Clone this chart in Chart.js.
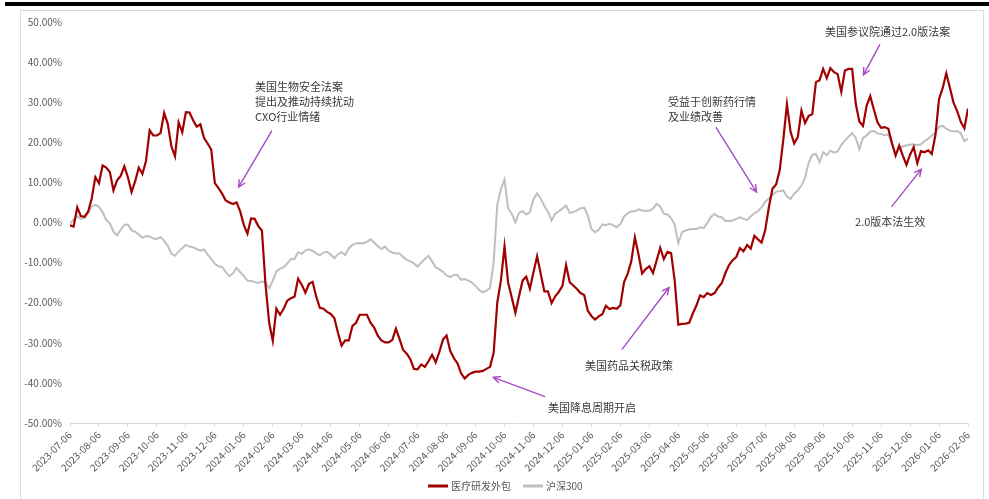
<!DOCTYPE html>
<html>
<head>
<meta charset="utf-8">
<script src="https://cdn.jsdelivr.net/npm/chart.js@4.4.1/dist/chart.umd.min.js"></script>
<style>
  html, body { margin: 0; padding: 0; background: #fff; }
  body { width: 989px; height: 499px; position: relative; overflow: hidden; }
  #topBar { position: absolute; left: 5px; top: 2px; width: 984px; height: 4px; background: #000; }
  #frame { position: absolute; left: 20px; top: 10px; width: 962px; height: 500px; border: 1px solid #d9d9d9; }
  #wrap { position: absolute; left: 0; top: 0; width: 989px; height: 499px; }
</style>
</head>
<body>
<div id="topBar"></div>
<div id="frame"></div>
<div id="wrap"><canvas id="trendChart" width="989" height="499"></canvas></div>
<script>
// month ticks, 2023-07-06 .. 2026-02-06
const tickLabels = [
  '2023-07-06', '2023-08-06', '2023-09-06', '2023-10-06', '2023-11-06', '2023-12-06',
  '2024-01-06', '2024-02-06', '2024-03-06', '2024-04-06', '2024-05-06', '2024-06-06',
  '2024-07-06', '2024-08-06', '2024-09-06', '2024-10-06', '2024-11-06', '2024-12-06',
  '2025-01-06', '2025-02-06', '2025-03-06', '2025-04-06', '2025-05-06', '2025-06-06',
  '2025-07-06', '2025-08-06', '2025-09-06', '2025-10-06', '2025-11-06', '2025-12-06',
  '2026-01-06', '2026-02-06'
];

// cumulative return (%), sampled 8 times per month
const STEPS_PER_MONTH = 8;

const cxoReturn = [
  -0.7, -1.0, 3.8, 1.6, 1.4, 2.7, 6.0, 11.3, 9.8, 14.2,
  13.7, 12.6, 8.0, 10.5, 11.6, 14.0, 11.3, 7.6, 10.3, 13.7,
  12.1, 15.4, 23.0, 21.7, 21.7, 22.3, 27.3, 24.6, 19.0, 16.5,
  25.0, 22.5, 27.5, 27.4, 25.5, 23.9, 24.5, 21.1, 19.7, 18.2,
  9.8, 8.6, 7.2, 5.5, 5.0, 4.6, 5.0, 2.8, -0.6, -2.8,
  1.0, 0.9, -0.9, -2.0, -15.5, -25.0, -29.5, -21.5, -23.0, -21.5,
  -19.5, -18.9, -18.5, -14.0, -15.5, -17.5, -15.3, -14.8, -18.5, -21.3,
  -21.5, -22.3, -22.8, -23.8, -27.5, -30.7, -29.4, -29.4, -25.8, -25.0,
  -23.0, -23.0, -23.0, -25.0, -26.2, -28.2, -29.4, -29.9, -29.9, -29.3,
  -26.5, -29.0, -31.8, -32.7, -34.1, -36.5, -36.6, -35.4, -36.0, -34.6,
  -33.0, -34.9, -32.3, -29.2, -28.2, -32.0, -33.8, -35.1, -37.6, -38.9,
  -38.0, -37.5, -37.2, -37.2, -37.0, -36.5, -36.0, -32.5, -20.0, -14.5,
  -6.0, -15.0, -18.7, -22.5, -18.4, -14.5, -13.5, -16.5, -12.4, -8.4,
  -12.8, -17.2, -17.2, -20.1, -18.4, -17.3, -15.8, -10.6, -14.9, -15.7,
  -16.6, -17.6, -18.1, -22.0, -23.3, -24.2, -23.4, -22.9, -20.8, -21.6,
  -21.3, -21.5, -20.6, -14.9, -12.8, -9.7, -3.7, -8.0, -12.7, -11.6,
  -10.9, -12.6, -9.5, -6.3, -9.1, -7.3, -7.6, -14.5, -25.5, -25.3,
  -25.2, -25.0, -22.7, -20.7, -18.2, -18.6, -17.6, -18.1, -17.6, -16.2,
  -15.1, -12.6, -10.6, -9.4, -8.6, -6.4, -7.2, -5.6, -6.5, -3.3,
  -4.2, -5.0, -1.9, 3.8, 8.4, 9.5, 13.0, 20.7, 29.5, 22.6,
  19.7, 21.3, 27.9, 24.8, 26.6, 27.0, 35.0, 35.5, 38.3, 36.0,
  38.5, 37.5, 37.0, 32.6, 37.9, 38.3, 38.3, 29.6, 25.2, 24.1,
  29.1, 31.5, 28.2, 25.0, 23.6, 23.8, 23.4, 19.8, 16.7, 19.2,
  16.7, 14.4, 16.9, 18.8, 14.8, 17.8, 17.5, 18.0, 17.1, 21.8,
  30.8, 33.5, 37.2, 33.6, 29.9, 27.8, 25.1, 23.5, 28.4
];

const hs300Return = [
  -0.3, 0.8, 1.5, 0.9, 1.1, 2.4, 4.0, 4.4, 3.9, 2.6,
  0.6, -0.2, -2.3, -3.2, -1.8, -0.6, -0.5, -1.9, -2.3, -3.0,
  -3.8, -3.4, -3.5, -4.0, -4.1, -3.6, -4.6, -5.8, -7.8, -8.3,
  -7.2, -6.4, -5.6, -6.0, -6.2, -6.6, -7.0, -6.7, -8.0, -9.0,
  -10.3, -10.9, -11.1, -12.3, -13.4, -12.7, -11.3, -12.4, -13.3, -14.5,
  -14.6, -14.8, -15.1, -14.7, -14.9, -16.4, -14.5, -12.2, -11.5, -11.2,
  -10.2, -9.1, -9.1, -7.4, -7.8, -7.0, -6.7, -7.1, -7.7, -8.2,
  -7.5, -7.3, -8.0, -8.9, -7.9, -7.4, -8.1, -6.4, -5.6, -5.2,
  -5.1, -5.2, -4.8, -4.2, -5.0, -5.9, -6.6, -6.0, -7.0, -7.5,
  -7.7, -7.7, -8.6, -9.3, -9.7, -10.2, -11.0, -10.0, -9.1, -8.3,
  -9.7, -11.2, -11.7, -12.3, -13.2, -13.6, -13.1, -13.1, -14.3, -14.1,
  -14.5, -15.0, -15.8, -16.8, -17.4, -17.0, -16.3, -10.0, 4.5, 8.3,
  10.7, 3.5, 2.2, 0.0, 2.4, 2.8, 2.0, 2.6, 5.8, 7.3,
  6.0, 4.1, 2.7, 0.5, 2.2, 2.8, 3.5, 4.2, 2.4, 2.6,
  3.0, 3.5, 3.7, 1.7, -1.6, -2.4, -1.8, -0.5, -0.6, -0.3,
  -0.7, -1.2, -0.4, 1.5, 2.3, 2.8, 2.8, 3.3, 3.0, 2.9,
  3.0, 3.4, 4.7, 4.0, 2.2, 2.0, 1.1, -0.5, -5.2, -2.4,
  -2.0, -1.7, -1.6, -1.6, -1.2, -1.4, -0.1, 1.4, 2.1, 1.5,
  1.3, 0.4, 0.4, 0.5, 0.9, 1.3, 0.9, 0.6, 1.5, 2.3,
  2.8, 3.8, 5.2, 6.0, 6.8, 7.7, 7.8, 8.0, 6.5, 5.9,
  7.2, 8.0, 9.2, 11.2, 14.9, 16.9, 17.1, 15.0, 17.5, 16.8,
  17.9, 17.4, 17.7, 19.3, 20.4, 21.4, 22.3, 21.1, 18.3, 21.1,
  21.7, 22.7, 22.8, 22.2, 22.1, 21.7, 22.0, 19.6, 17.0, 18.4,
  19.0, 19.2, 19.4, 19.5, 19.3, 19.5, 20.3, 20.9, 21.7, 22.4,
  23.9, 24.1, 23.4, 22.9, 22.7, 22.8, 22.3, 20.3, 20.9
];

const seriesNames = ['医疗研发外包', '沪深300'];

// event notes: text anchor, arrow tail and arrow tip in (month, %) units
const eventNotes = [
  { lines: ['美国生物安全法案', '提出及推动持续扰动', 'CXO行业情绪'], at: [6.39, 33.9], from: [6.97, 22.9], to: [5.82, 8.8] },
  { lines: ['受益于创新药行情', '及业绩改善'], at: [20.64, 30.0], from: [22.3, 23.7], to: [23.7, 7.6] },
  { lines: ['美国参议院通过2.0版法案'], at: [26.06, 47.5], from: [27.96, 44.4], to: [27.39, 36.8] },
  { lines: ['2.0版本法生效'], at: [27.1, 0.1], from: [28.36, 3.9], to: [29.39, 13.3] },
  { lines: ['美国药品关税政策'], at: [17.78, -35.8], from: [19.05, -31.7], to: [20.68, -16.2] },
  { lines: ['美国降息周期开启'], at: [16.5, -46.1], from: [16.4, -43.4], to: [14.61, -38.6] }
];

const toPoints = arr => arr.map((v, i) => ({ x: i / STEPS_PER_MONTH, y: v }));

const CJK = '"Noto Sans CJK SC", "Noto Sans", sans-serif';

const notesPlugin = {
  id: 'eventNotes',
  afterDatasetsDraw(chart) {
    const { ctx, scales: { x, y } } = chart;
    const px = p => [x.getPixelForValue(p[0]), y.getPixelForValue(p[1])];
    ctx.save();
    eventNotes.forEach(n => {
      const [tx, ty] = px(n.at);
      ctx.font = '11px ' + CJK;
      ctx.fillStyle = '#3a3a3a';
      ctx.textBaseline = 'middle';
      ctx.textAlign = 'left';
      n.lines.forEach((line, i) => ctx.fillText(line, tx, ty + i * 15));

      const [x0, y0] = px(n.from);
      const [x1, y1] = px(n.to);
      const ang = Math.atan2(y1 - y0, x1 - x0);
      ctx.strokeStyle = '#a64cc4';
      ctx.lineWidth = 1.4;
      ctx.beginPath();
      ctx.moveTo(x0, y0);
      ctx.lineTo(x1, y1);
      ctx.moveTo(x1 - 8 * Math.cos(ang - 0.45), y1 - 8 * Math.sin(ang - 0.45));
      ctx.lineTo(x1, y1);
      ctx.lineTo(x1 - 8 * Math.cos(ang + 0.45), y1 - 8 * Math.sin(ang + 0.45));
      ctx.stroke();
    });
    ctx.restore();
  }
};

// simple legend row under the axis labels
const legendPlugin = {
  id: 'bottomLegend',
  afterDraw(chart) {
    const { ctx } = chart;
    let cx = 428;
    const cy = 486;
    ctx.save();
    ctx.font = '10px ' + CJK;
    ctx.textBaseline = 'middle';
    chart.data.datasets.forEach(ds => {
      ctx.fillStyle = ds.borderColor;
      ctx.fillRect(cx, cy - 1.5, 20, 3);
      cx += 23;
      ctx.fillStyle = '#595959';
      ctx.fillText(ds.label, cx, cy);
      cx += ctx.measureText(ds.label).width + 12;
    });
    ctx.restore();
  }
};

const ctx = document.getElementById('trendChart').getContext('2d');
const trendChart = new Chart(ctx, {
  type: 'line',
  data: {
    datasets: [
      {
        label: seriesNames[0],
        data: toPoints(cxoReturn),
        borderColor: '#a00000',
        backgroundColor: '#a00000',
        borderWidth: 2.2,
        pointRadius: 0,
        tension: 0
      },
      {
        label: seriesNames[1],
        data: toPoints(hs300Return),
        borderColor: '#bfbfbf',
        backgroundColor: '#bfbfbf',
        borderWidth: 2,
        pointRadius: 0,
        tension: 0
      }
    ]
  },
  options: {
    responsive: false,
    animation: false,
    devicePixelRatio: 1,
    layout: { padding: { left: 0, right: 21, top: 22, bottom: 0 } },
    plugins: {
      legend: { display: false },
      tooltip: { enabled: false }
    },
    scales: {
      x: {
        type: 'linear',
        min: 0,
        max: tickLabels.length - 1,
        afterFit: s => { s.height = 76; },
        grid: { drawOnChartArea: false, drawTicks: true, tickLength: 4, color: '#d9d9d9' },
        border: { display: true, color: '#d9d9d9' },
        ticks: {
          stepSize: 1,
          maxTicksLimit: 40,
          autoSkip: false,
          minRotation: 45,
          maxRotation: 45,
          padding: 2,
          color: '#595959',
          font: { size: 10, family: CJK },
          callback: v => tickLabels[v]
        }
      },
      y: {
        min: -50,
        max: 50,
        afterFit: s => { s.width = 70; },
        grid: { display: false, drawTicks: false },
        border: { display: false },
        ticks: {
          stepSize: 10,
          padding: 8,
          color: '#595959',
          font: { size: 10, family: CJK },
          callback: v => v.toFixed(2) + '%'
        }
      }
    }
  },
  plugins: [notesPlugin, legendPlugin]
});
</script>
</body>
</html>
